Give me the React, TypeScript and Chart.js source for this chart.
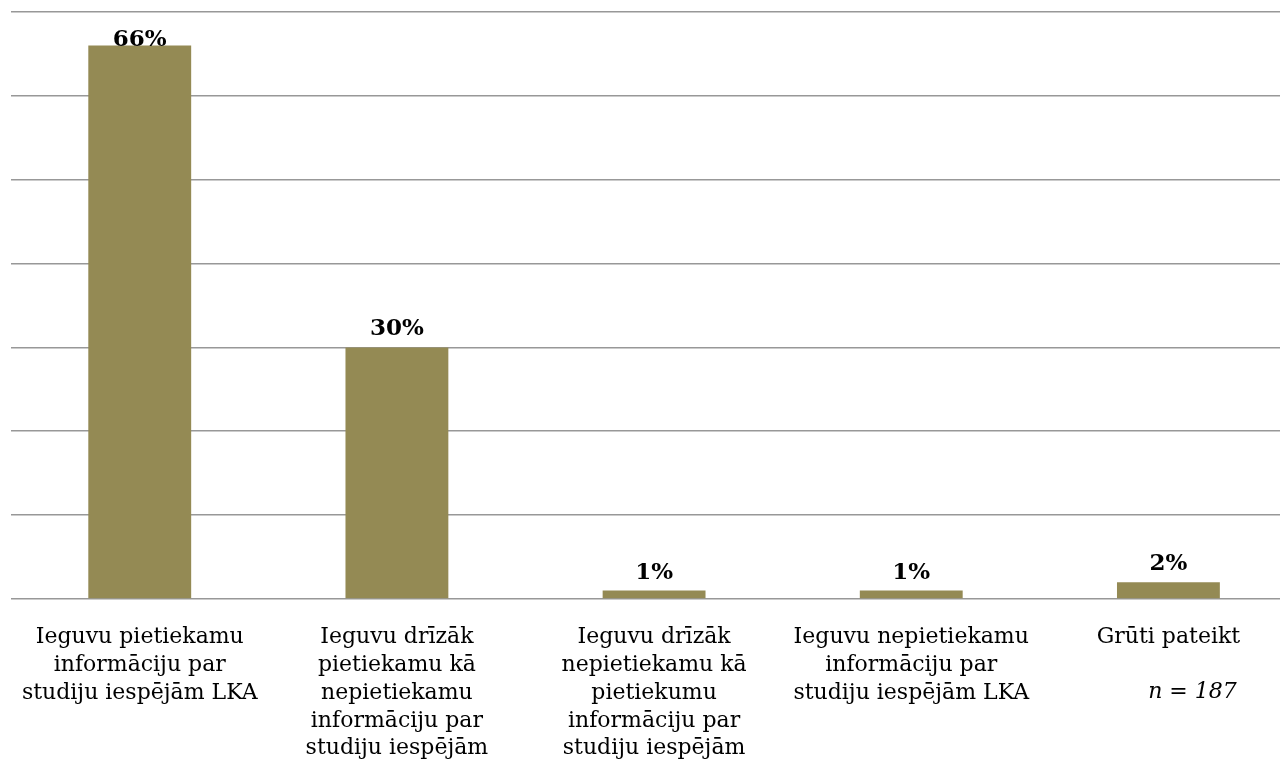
import React, { useEffect, useRef } from "react";
import { Chart, registerables } from "chart.js";

Chart.register(...registerables);

const categories: string[][] = [
  ["Ieguvu pietiekamu", "informāciju par", "studiju iespējām LKA"],
  ["Ieguvu drīzāk", "pietiekamu kā", "nepietiekamu", "informāciju par", "studiju iespējām"],
  ["Ieguvu drīzāk", "nepietiekamu kā", "pietiekumu", "informāciju par", "studiju iespējām"],
  ["Ieguvu nepietiekamu", "informāciju par", "studiju iespējām LKA"],
  ["Grūti pateikt"],
];
const values: number[] = [66, 30, 1, 1, 2];
const valueLabels: string[] = ["66%", "30%", "1%", "1%", "2%"];
const noteText = "n = 187";

const FONT = "'DejaVu Serif', 'Liberation Serif', serif";

const labelPlugin = {
  id: "valueLabels",
  afterDatasetsDraw(chart: any) {
    const ctx = chart.ctx;
    const meta = chart.getDatasetMeta(0);
    const area = chart.chartArea;
    ctx.save();
    ctx.font = `bold 23px ${FONT}`;
    ctx.fillStyle = "#000";
    ctx.textAlign = "center";
    ctx.textBaseline = "alphabetic";
    meta.data.forEach((bar: any, i: number) => {
      const y = Math.max(bar.y - 12, area.top + 34);
      ctx.fillText(valueLabels[i], bar.x, y);
    });
    const last = meta.data[meta.data.length - 1];
    ctx.font = `italic 22px ${FONT}`;
    ctx.textBaseline = "middle";
    ctx.fillText(noteText, last.x + 24, area.bottom + 93);
    ctx.restore();
  },
};

export default function App() {
  const ref = useRef<HTMLCanvasElement>(null);
  useEffect(() => {
    if (!ref.current) return;
    const chart = new Chart(ref.current, {
      type: "bar",
      data: {
        labels: categories,
        datasets: [
          {
            data: values,
            backgroundColor: "#948A54",
            borderWidth: 0,
            categoryPercentage: 1,
            barPercentage: 0.4,
          },
        ],
      },
      options: {
        responsive: false,
        animation: false,
        layout: { padding: { left: 9, right: 0, top: 12, bottom: 0 } },
        plugins: { legend: { display: false }, tooltip: { enabled: false } },
        scales: {
          x: {
            grid: { display: false, drawTicks: false },
            border: { display: false },
            ticks: {
              color: "#000",
              font: { family: FONT, size: 22, lineHeight: 1.27 },
              padding: 24,
              maxRotation: 0,
              autoSkip: false,
            },
            afterFit: (scale: any) => {
              scale.height = 174;
            },
          },
          y: {
            min: 0,
            max: 70,
            ticks: { display: false, stepSize: 10 },
            grid: { color: "#989898", lineWidth: 1.6, drawTicks: false },
            border: { display: false },
            afterFit: (scale: any) => {
              scale.width = 0;
            },
          },
        },
      },
      plugins: [labelPlugin],
    });
    return () => chart.destroy();
  }, []);
  return (
    <div
      style={{
        position: "fixed",
        left: 0,
        top: 0,
        width: 1280,
        height: 773,
        overflow: "hidden",
        background: "#fff",
      }}
    >
      <canvas
        ref={ref}
        width={1300}
        height={773}
        style={{ display: "block", marginLeft: -3 }}
      />
    </div>
  );
}
